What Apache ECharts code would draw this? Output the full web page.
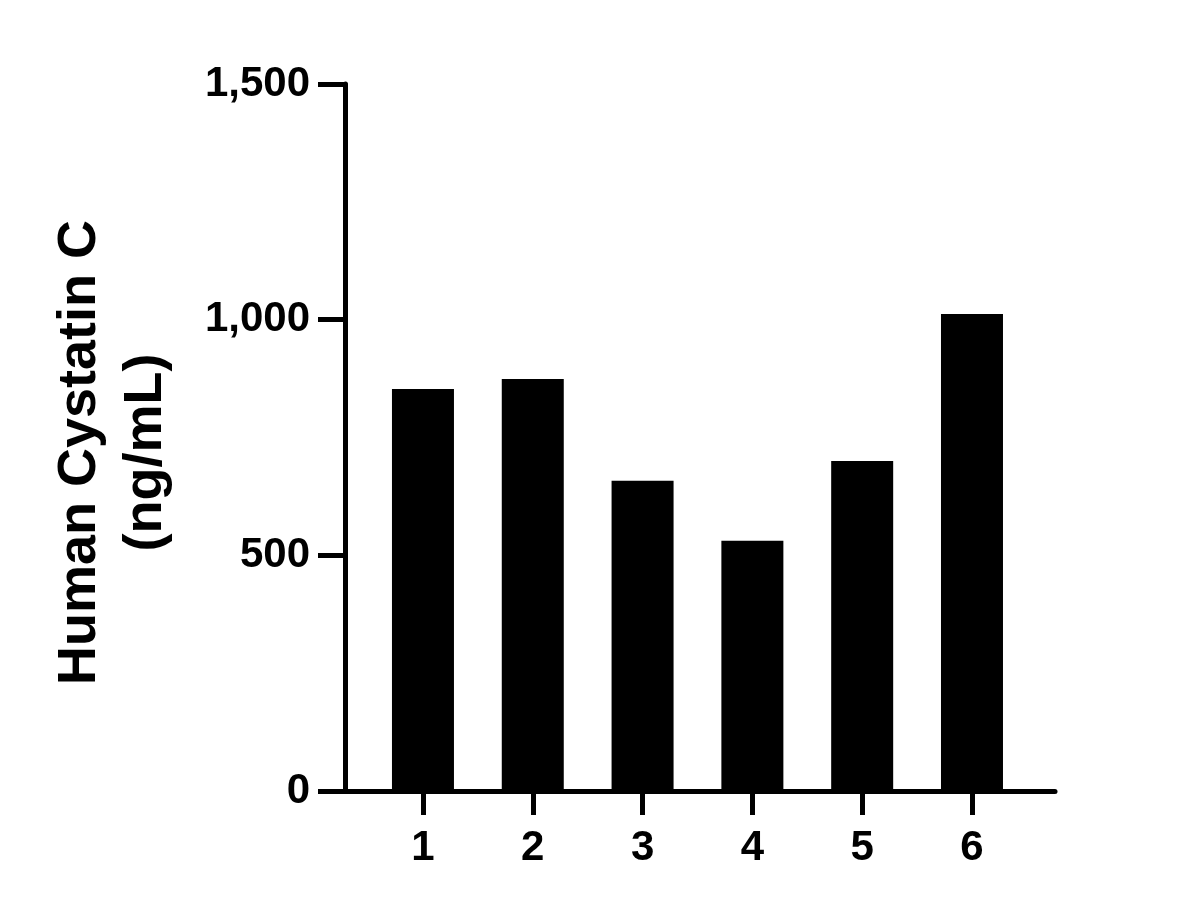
<!DOCTYPE html>
<html><head><meta charset="utf-8">
<script src="https://cdn.jsdelivr.net/npm/echarts@6/dist/echarts.min.js"></script>
<style>html,body{margin:0;padding:0;background:#fff}#c{width:1190px;height:908px}</style>
</head><body><div id="c"></div>
<script>
const categories = [1, 2, 3, 4, 5, 6];
const values = [853, 874, 658, 531, 700, 1012];
const yTicks = [0, 500, 1000, 1500];
const yTitle = "Human Cystatin C\n(ng/mL)";

const chart = echarts.init(document.getElementById('c'));
const font = '"Liberation Sans", Arial, sans-serif';
chart.setOption({
  animation: false,
  backgroundColor: '#fff',
  grid: { left: 345, right: 135, top: 84, bottom: 117 },
  xAxis: {
    type: 'value',
    min: 0.29, max: 6.756,
    splitLine: { show: false },
    axisLine: { show: true, onZero: false, lineStyle: { color: '#000', width: 5 } },
    axisTick: { show: true, length: 24, lineStyle: { color: '#000', width: 5 }, customValues: categories },
    axisLabel: { color: '#000', fontFamily: font, fontWeight: 'bold', fontSize: 42, margin: 36, customValues: categories,
      formatter: v => String(v) }
  },
  yAxis: {
    type: 'value',
    min: 0, max: 1500, interval: 500,
    splitLine: { show: false },
    axisLine: { show: true, lineStyle: { color: '#000', width: 5 } },
    axisTick: { show: true, length: 27, lineStyle: { color: '#000', width: 5 }, customValues: yTicks },
    axisLabel: { color: '#000', fontFamily: font, fontWeight: 'bold', fontSize: 42, margin: 35, customValues: yTicks,
      formatter: v => v.toLocaleString('en-US') },
    name: yTitle,
    nameLocation: 'middle',
    nameGap: 166,
    nameRotate: 90,
    nameTextStyle: { color: '#000', fontFamily: font, fontWeight: 'bold', fontSize: 54, lineHeight: 66, align: 'center', padding: [0, 30, 0, 0] }
  },
  series: [{
    type: 'bar',
    data: categories.map((c, i) => [c, values[i]]),
    barWidth: 62,
    itemStyle: { color: '#000' }
  }]
});
</script></body></html>
